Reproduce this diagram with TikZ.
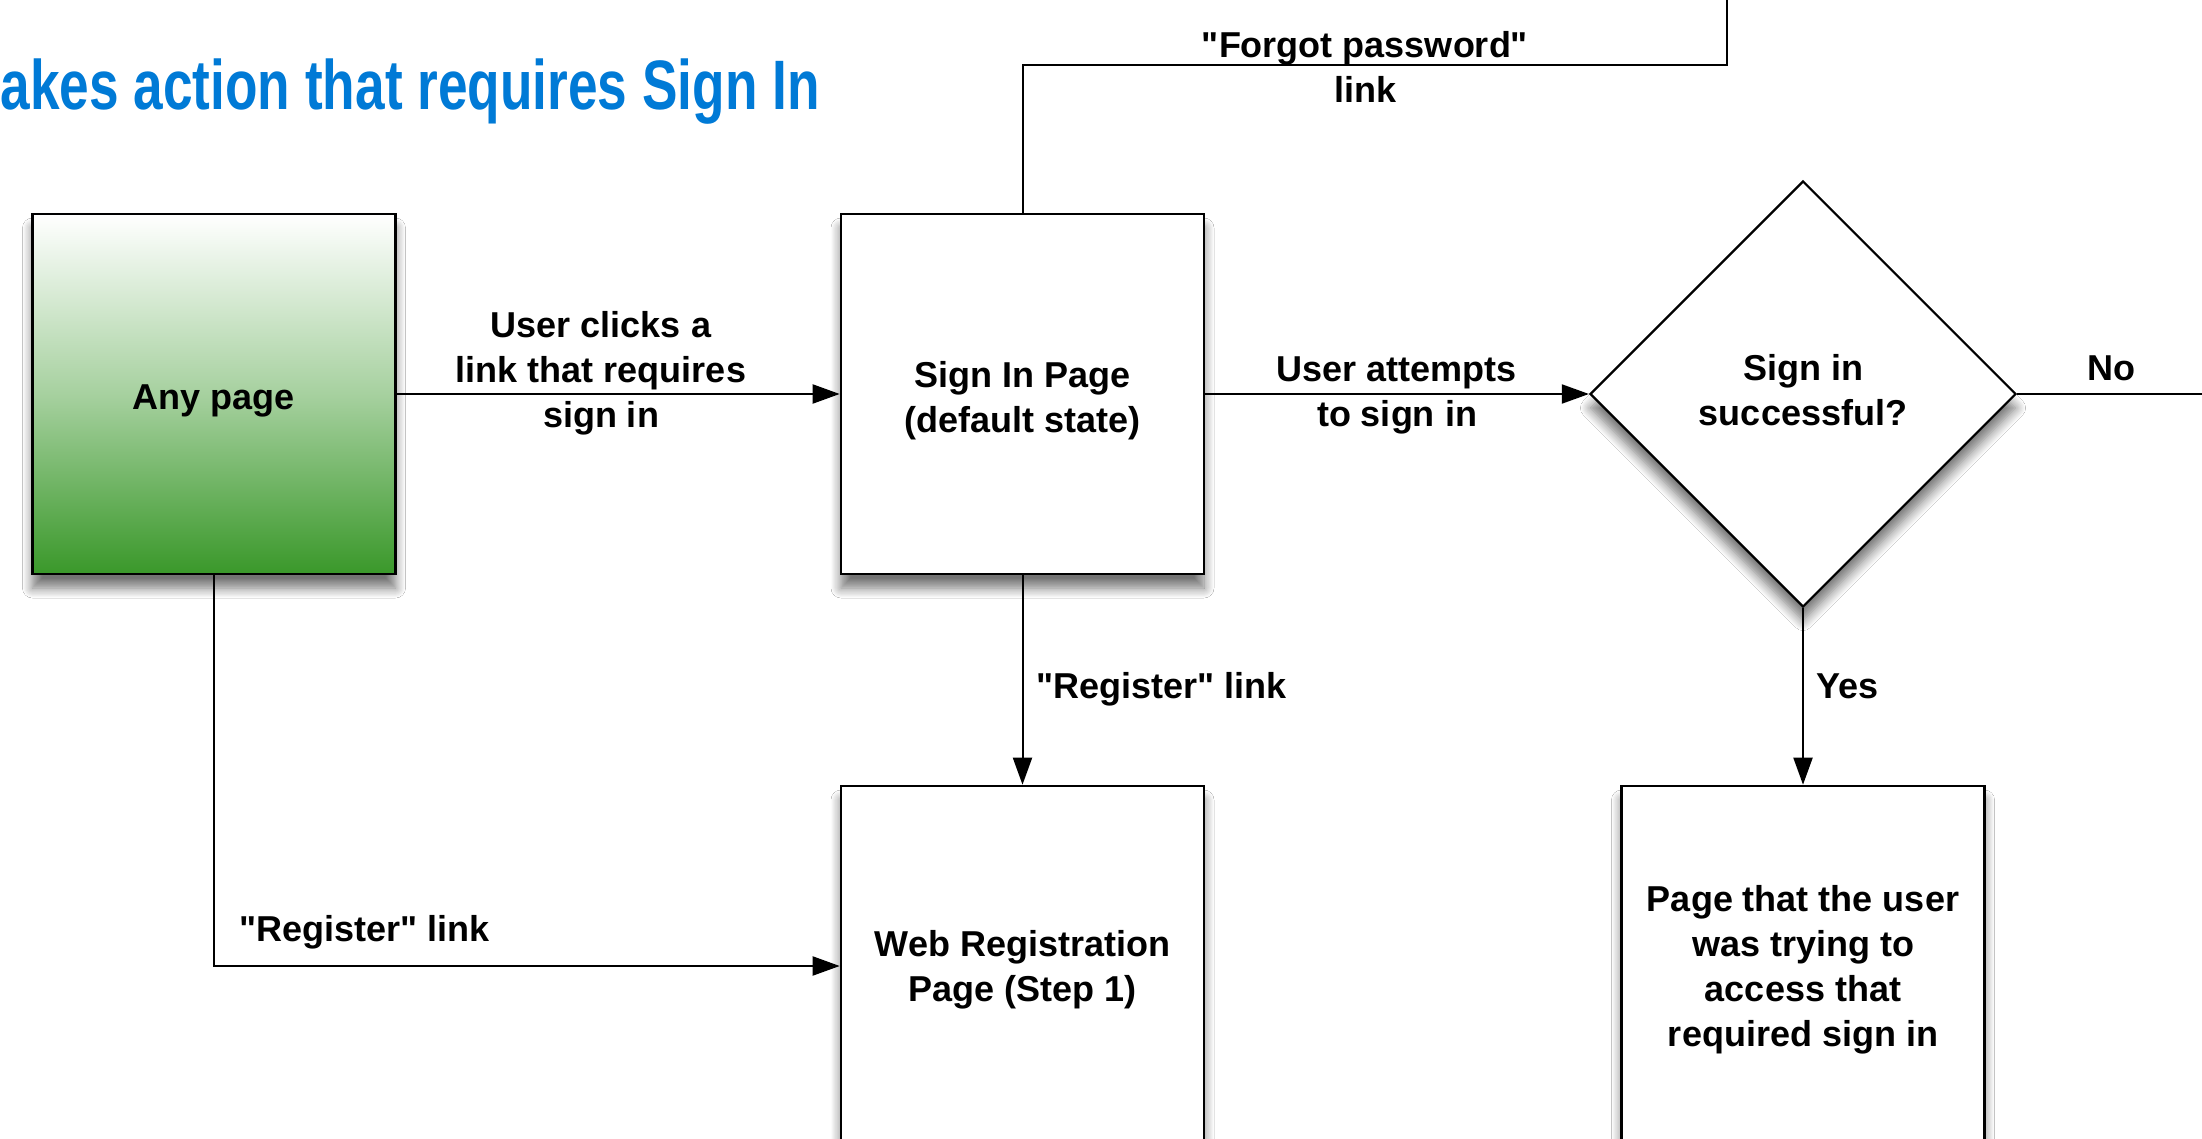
\documentclass[tikz,border=0pt]{standalone}
\usepackage{fontspec}
\usepackage{graphicx}
\setmainfont{Liberation Sans}[Ligatures=TeXOff]
\usetikzlibrary{arrows.meta,shapes.geometric,shadows.blur}
\definecolor{titleblue}{RGB}{0,122,214}
\definecolor{anygreen}{RGB}{58,152,42}
\newcommand{\boxtxt}[2]{\raisebox{#1}[\height][\depth]{\begin{tabular}{@{}c@{}}#2\end{tabular}}}
\newcommand{\dectxt}[2]{\raisebox{#1}{\begin{tabular}{@{}c@{}}#2\end{tabular}}}
\tikzset{
  every node/.style={font=\bfseries\fontsize{18}{22.5}\selectfont},
  boxshadow/.style={blur shadow={shadow xshift=0pt,shadow yshift=-7pt,shadow blur radius=5pt,shadow blur steps=10,shadow opacity=55}},
  pagebox/.style={draw=black,line width=1.3pt,fill=white,minimum width=181.5pt,minimum height=180pt,inner sep=4pt,boxshadow},
  decision/.style={draw=black,diamond,line width=1.1pt,fill=white,minimum width=213pt,minimum height=213pt,inner sep=0pt,boxshadow},
  conn/.style={line width=1pt,draw=black},
  arr/.style={conn,-{Triangle[length=13.5pt,width=9.5pt]}},
  lbl/.style={align=center,inner sep=0pt}
}
\begin{document}
\begin{tikzpicture}[x=0.5pt,y=-0.5pt]
\clip (0,0) rectangle (2202,1139);
\fill[white] (0,0) rectangle (2202,1139);
% title
\node[anchor=base east,inner sep=0pt,text=titleblue,font=\bfseries\fontsize{35}{40}\selectfont] (title) at (820,110) {\scalebox{0.76}[1]{akes action that requires Sign In}};
% nodes
\node[pagebox,top color=white,bottom color=anygreen,middle color=anygreen!45] (any) at (214,394) {\boxtxt{-3.5pt}{Any page}};
\node[pagebox] (signin) at (1022.5,394) {\boxtxt{-3.5pt}{Sign In Page\\(default state)}};
\node[decision] (dec) at (1803,394) {\dectxt{1.7pt}{Sign in\\successful?}};
\node[pagebox] (webreg) at (1022.5,966) {\boxtxt{-2pt}{Web Registration\\Page (Step 1)}};
\node[pagebox] (target) at (1803,966) {\boxtxt{-1.8pt}{Page that the user\\was trying to\\access that\\required sign in}};
\coordinate (noend) at (2215,394);
\coordinate (fpcorner1) at (1022.5,65);
\coordinate (fpcorner2) at (1727,65);
\coordinate (fpend) at (1727,-10);
% connectors
\draw[arr] (any.east) -- (signin.west);
\draw[arr] (signin.east) -- (dec.west);
\draw[conn] (dec.east) -- (noend);
\draw[arr] (dec.south) -- (target.north);
\draw[arr] (signin.south) -- (webreg.north);
\draw[arr] (any.south) |- (webreg.west);
\draw[conn] (signin.north) -- (fpcorner1) -- (fpcorner2) -- (fpend);
% labels
\node[lbl] (l1) at (601,373) {User clicks a\\link that requires\\sign in};
\node[lbl] (l2) at (1397,395) {User attempts\\to sign in};
\node[lbl] (lno) at (2111,368) {No};
\node[lbl,anchor=west] (lyes) at (1816,686) {Yes};
\node[lbl,anchor=west] (lreg1) at (1036,689) {"Register" link};
\node[lbl,anchor=west] (lreg2) at (239,932) {"Register" link};
\node[lbl] (lfp) at (1365,67) {"Forgot password"\\link};
\end{tikzpicture}
\end{document}
